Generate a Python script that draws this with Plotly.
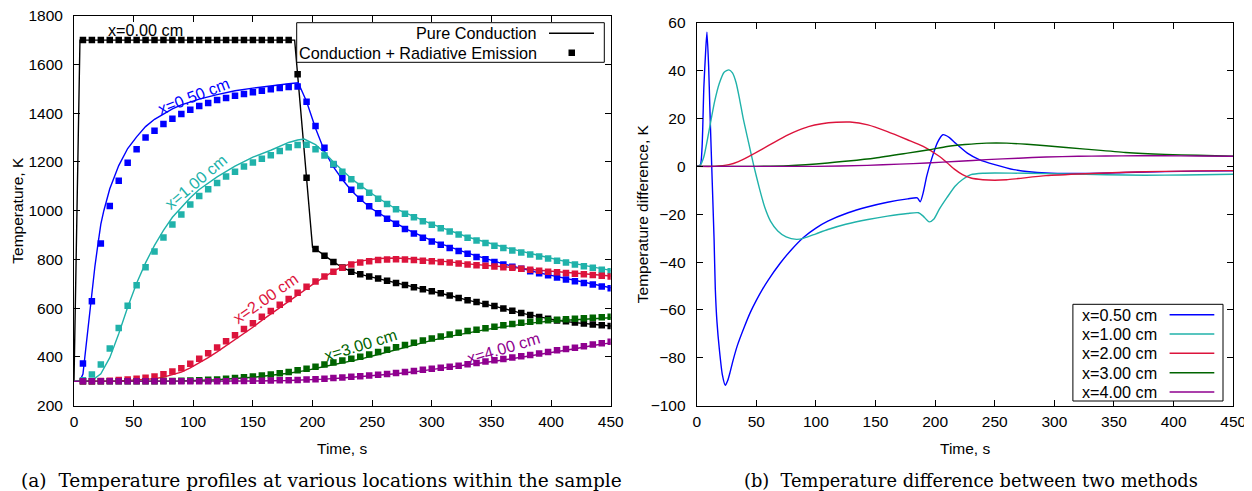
import plotly.graph_objects as go

# page body has an 8px margin: the figure is drawn 8px in from the top-left corner
OX, OY = 8, 8
W, H = 1244, 483

# ---------------- data: left panel ----------------
t_sq = [7.5, 15, 22.5, 30, 37.5, 45, 52.5, 60, 67.5, 75, 82.5, 90, 97.5, 105, 112.5, 120,
        127.5, 135, 142.5, 150, 157.5, 165, 172.5, 180, 187.5, 195, 202.5, 210, 217.5, 225,
        232.5, 240, 247.5, 255, 262.5, 270, 277.5, 285, 292.5, 300, 307.5, 315, 322.5, 330,
        337.5, 345, 352.5, 360, 367.5, 375, 382.5, 390, 397.5, 405, 412.5, 420, 427.5, 435,
        442.5, 450]

sq_x000 = [1700] * 24 + [1560, 1135, 843, 815, 790, 767, 750, 739, 730, 722, 713, 703, 695, 686,
                         678, 670, 661, 652, 642, 633, 625, 617, 609, 599, 590, 580, 572, 564,
                         557, 550, 546, 541, 537, 533, 530, 527]
sq_x050 = [373, 629, 865, 1019, 1123, 1197, 1252, 1300, 1328, 1356, 1377, 1397, 1414, 1430, 1442,
           1454, 1462, 1472, 1479, 1486, 1492, 1498, 1503, 1507, 1510, 1447, 1348, 1258, 1190, 1134,
           1086, 1049, 1018, 990, 967, 946, 925, 906, 889, 874, 860, 847, 835, 823, 810, 801, 790,
           779, 770, 762, 752, 743, 735, 726, 718, 711, 703, 697, 689, 682]
sq_x100 = [304, 328, 369, 435, 519, 610, 694, 768, 833, 890, 943, 984, 1025, 1060, 1088, 1114, 1140,
           1160, 1181, 1198, 1213, 1228, 1245, 1260, 1270, 1271, 1252, 1226, 1192, 1160, 1129, 1101,
           1074, 1049, 1027, 1006, 988, 973, 957, 942, 928, 915, 902, 889, 878, 867, 856, 847, 837,
           829, 820, 812, 804, 795, 787, 779, 772, 766, 758, 752]
sq_x200 = [300, 300, 301, 302, 305, 308, 311, 315, 320, 329, 340, 354, 372, 393, 415, 439, 464, 489,
           515, 538, 565, 589, 614, 638, 663, 688, 710, 730, 750, 766, 779, 787, 793, 798, 800, 801,
           800, 798, 795, 793, 790, 787, 783, 779, 776, 774, 771, 768, 766, 762, 758, 754, 750, 747,
           744, 741, 739, 736, 733, 730]
sq_x300 = [300, 300, 300, 300, 300, 300, 300, 300, 300.5, 301, 301.5, 302, 303, 304, 306, 308, 311,
           313.5, 316.5, 320, 324, 328, 333, 338, 345, 352, 360, 369, 377, 385, 393, 401, 410, 420,
           430, 440, 449, 458, 467, 476, 484, 492, 499, 506, 512, 518, 524, 530, 535, 540, 544, 548,
           551, 553, 555, 557, 559, 561, 563, 565]
sq_x400 = [300] * 16 + [300.5, 301, 301.5, 302, 302.5, 303, 304, 304.5, 305.5, 307, 309, 311, 313.5,
                        316, 318.5, 321, 324, 327, 330, 334, 338.5, 342.5, 347, 352, 356, 360, 364,
                        370, 375, 381, 386, 392, 397.5, 403, 408, 414, 420, 427, 433, 438, 444, 451,
                        456, 462]

ln_x000_t = [0, 5, 185, 200, 202.5, 210, 217.5, 225, 232.5, 240, 255, 270, 285, 300, 315, 330, 345,
             360, 375, 390, 405, 420, 435, 450]
ln_x000 = [300, 1700, 1700, 850, 843, 815, 790, 767, 750, 739, 722, 703, 686, 670, 652, 633, 617,
           599, 580, 564, 550, 541, 533, 527]

ln_x050_t = [0, 5, 7.5, 10, 12.5, 15, 17.5, 20, 22.5, 25, 30, 37.5, 45, 52.5, 60, 67.5, 75, 82.5, 90,
             105, 120, 135, 150, 165, 180, 188, 195, 202.5, 210, 217.5, 225, 232.5, 240, 250, 265,
             280, 300, 330, 360, 390, 420, 450]
ln_x050 = [300, 302, 330, 445, 560, 672, 770, 860, 945, 1000, 1090, 1185, 1255, 1303, 1345, 1375,
           1398, 1418, 1434, 1458, 1476, 1492, 1503, 1513, 1521, 1525, 1448, 1338, 1245, 1180, 1128,
           1083, 1047, 1007, 962, 921, 877, 826, 782, 745, 713, 684]

ln_x100_t = [0, 10, 15, 22.5, 30, 37.5, 45, 52.5, 60, 67.5, 75, 82.5, 90, 97.5, 105, 112.5, 120, 135,
             150, 165, 180, 187.5, 193, 202.5, 210, 217.5, 225, 232.5, 240, 255, 270, 300, 330, 360,
             390, 420, 450]
ln_x100 = [300, 300, 303, 331, 397, 495, 604, 702, 786, 858, 919, 973, 1014, 1053, 1087, 1114, 1139,
           1183, 1220, 1248, 1280, 1290, 1294, 1271, 1239, 1200, 1165, 1132, 1104, 1052, 1007, 945,
           892, 851, 816, 783, 755]

ln_x200_t = [0, 30, 37.5, 45, 52.5, 60, 67.5, 75, 82.5, 90, 97.5, 105, 112.5, 120, 127.5, 135, 142.5,
             150, 157.5, 165, 172.5, 180, 187.5, 195, 202.5, 210, 217.5, 225, 232.5, 240, 247.5, 255,
             262.5, 270, 285, 300, 315, 330, 345, 360, 375, 390, 405, 420, 435, 450]
ln_x200 = [300, 300.5, 302, 304, 305.5, 307.5, 310.5, 317, 326, 338, 355, 375, 397, 421, 446, 471,
           498, 522, 550, 576, 602, 628, 654, 681, 706, 728, 752, 770, 784, 793, 799, 804, 805, 806,
           802, 797, 790, 782, 777, 770, 764, 756, 749, 743, 738, 732]

ln_x300_t = [0, 90, 120, 150, 180, 195, 210, 225, 240, 255, 270, 285, 300, 315, 330, 345, 360, 375,
             390, 405, 420, 435, 450]
ln_x300 = [300, 302, 306.5, 316.5, 333, 345, 361, 376, 391, 410, 430, 449, 468, 484.5, 499, 512, 524,
           534.5, 543, 548.5, 552.5, 556.8, 561]

ln_x400_t = [0, 120, 150, 180, 195, 210, 225, 240, 255, 270, 285, 300, 315, 330, 345, 360, 375, 390,
             405, 420, 435, 450]
ln_x400 = [300, 300, 301.6, 303.4, 305.8, 309.2, 313.8, 318.8, 324.4, 331, 339, 348.5, 356.2, 366,
           376.7, 387.7, 398.7, 409.6, 422.6, 433.7, 446.8, 457.8]

# ---------------- data: right panel (difference) ----------------
d_x050_t = [0, 3, 4.5, 6, 7.5, 8.6, 10, 11, 12.6, 14.6, 15.6, 17, 19, 21.5, 24, 26, 28, 30, 34, 40, 45,
            50, 55, 60, 70, 80, 90, 100, 110, 127, 143, 160, 177, 185, 187.5, 190, 193, 197, 202, 206.5,
            212, 217, 227, 237, 250, 266, 293, 326, 360, 393, 420, 450]
d_x050 = [0, 0.5, 8, 33, 48, 56, 42, 25, 0, -31, -51, -65, -76.4, -87, -91.5, -89.5, -86, -82, -75, -67,
          -61, -56, -51.5, -47.5, -40.5, -34.5, -29.5, -25.8, -22.9, -19.4, -17, -15, -13.6, -13.2,
          -14.8, -11, -4, 3, 10, 13.2, 12, 9.7, 5.5, 2.8, 0.7, -1.4, -2.8, -3.0, -2.6, -2.2, -2.0, -1.9]

d_x100_t = [0, 3, 6, 10, 15, 19, 23, 27, 30, 33, 36, 39, 43.5, 48, 52.5, 57, 62, 68, 75, 83.8, 90, 100,
            110, 125, 143.6, 160, 176.8, 186, 190, 195, 199, 203.4, 210, 216.7, 223, 230, 240, 250,
            276.5, 309.7, 343, 376, 409, 450]
d_x100 = [0, 0.5, 4, 13.9, 27, 34.7, 39.3, 40.3, 39, 35, 28, 20, 10, 0, -9, -17, -23, -27, -29.5, -30.5,
          -30, -28.2, -26.4, -24.2, -22.2, -20.8, -19.7, -19.4, -20.8, -23.2, -22, -18, -13, -8.3,
          -5.5, -3.5, -2.9, -2.8, -2.9, -3.2, -3.5, -3.7, -3.6, -3.3]

d_x200_t = [0, 15, 27, 35, 43.9, 55, 65, 77, 85, 93.7, 105, 117, 128.6, 143.6, 160, 176.8, 190, 203.4,
            210, 216.7, 223, 230, 240, 250, 260, 270, 293, 326, 359.6, 392.8, 420, 450]
d_x200 = [0, 0, 0.7, 2, 4.2, 7.2, 10, 13.2, 15, 16.6, 17.8, 18.4, 18.5, 17.3, 14.5, 11.1, 8.3, 4.2, 1.5,
          -1.4, -3.5, -4.9, -5.6, -5.8, -5.6, -5.1, -3.9, -3.1, -2.5, -2.1, -1.9, -1.8]

d_x300_t = [0, 50, 77, 110, 127, 150, 176.8, 195, 210, 225, 243, 260, 277, 293, 326, 359.6, 392.8, 420, 450]
d_x300 = [0, 0, 0.3, 1.4, 2.2, 3.5, 5.5, 6.9, 8.3, 9.1, 9.7, 9.7, 9.2, 8.6, 7.2, 5.8, 5.0, 4.6, 4.2]

d_x400_t = [0, 100, 143, 170, 193, 220, 243, 270, 293, 320, 343, 370, 392, 420, 450]
d_x400 = [0, 0, 0.4, 0.9, 1.4, 2.1, 2.8, 3.4, 3.9, 4.2, 4.3, 4.4, 4.4, 4.3, 4.2]

loc_labels = ["x=0.00 cm", "x=0.50 cm", "x=1.00 cm", "x=2.00 cm", "x=3.00 cm", "x=4.00 cm"]
x_ticks = [0, 50, 100, 150, 200, 250, 300, 350, 400, 450]
y_ticks_left = [200, 400, 600, 800, 1000, 1200, 1400, 1600, 1800]
y_ticks_right = [-100, -80, -60, -40, -20, 0, 20, 40, 60]

# ---------------- styling ----------------
C_BLACK = "#000000"
C_BLUE = "#0000ff"
C_TEAL = "#20b2aa"
C_RED = "#dc143c"
C_GREEN = "#006400"
C_PURPLE = "#8f008f"
SANS = "Liberation Sans, Arial, sans-serif"
SERIF = "DejaVu Serif, serif"
FS = 15.5      # ticks and axis titles
FT = 16.2      # legend and curve labels


def px(xp):
    return (xp - OX) / W


def py(yp):
    return 1 - (yp - OY) / H


fig = go.Figure()

lines_left = [
    (ln_x000_t, ln_x000, C_BLACK),
    (ln_x050_t, ln_x050, C_BLUE),
    (ln_x100_t, ln_x100, C_TEAL),
    (ln_x200_t, ln_x200, C_RED),
    (ln_x300_t, ln_x300, C_GREEN),
    (ln_x400_t, ln_x400, C_PURPLE),
]
for tt, vv, c in lines_left:
    fig.add_trace(go.Scatter(x=tt, y=vv, mode="lines", line=dict(color=c, width=1.4),
                             xaxis="x", yaxis="y", showlegend=False, hoverinfo="skip"))

squares_left = [
    (sq_x000, C_BLACK), (sq_x050, C_BLUE), (sq_x100, C_TEAL),
    (sq_x200, C_RED), (sq_x300, C_GREEN), (sq_x400, C_PURPLE),
]
for vv, c in squares_left:
    fig.add_trace(go.Scatter(x=t_sq, y=vv, mode="markers",
                             marker=dict(symbol="square", size=6.5, color=c, line=dict(width=0)),
                             xaxis="x", yaxis="y", showlegend=False, hoverinfo="skip"))

diff_right = [
    (d_x050_t, d_x050, C_BLUE), (d_x100_t, d_x100, C_TEAL), (d_x200_t, d_x200, C_RED),
    (d_x300_t, d_x300, C_GREEN), (d_x400_t, d_x400, C_PURPLE),
]
for tt, vv, c in diff_right:
    fig.add_trace(go.Scatter(x=tt, y=vv, mode="lines", line=dict(color=c, width=1.4, shape="spline",
                                                                  smoothing=0.6),
                             xaxis="x2", yaxis="y2", showlegend=False, hoverinfo="skip"))

ax_common = dict(showline=True, linecolor="black", linewidth=1, mirror="ticks", ticks="inside",
                 ticklen=6, tickwidth=1, tickcolor="black", showgrid=False, zeroline=False,
                 ticklabeloverflow="allow",
                 tickfont=dict(family=SANS, size=FS, color="black"))

fig.update_layout(
    width=W, height=H,
    margin=dict(l=0, r=0, t=0, b=0, autoexpand=False),
    paper_bgcolor="white", plot_bgcolor="white",
    showlegend=False,
    xaxis=dict(domain=[px(74), px(610.7)], range=[0, 450], tickvals=x_ticks, anchor="y",
               ticklabelstandoff=2, **ax_common),
    yaxis=dict(domain=[py(405.7), py(15.7)], range=[200, 1800], tickvals=y_ticks_left, anchor="x",
               ticklabelstandoff=7, **ax_common),
    xaxis2=dict(domain=[px(696.7), px(1233.2)], range=[0, 450], tickvals=x_ticks, anchor="y2",
                ticklabelstandoff=2, **ax_common),
    yaxis2=dict(domain=[py(405.7), py(22.7)], range=[-100, 60], tickvals=y_ticks_right, anchor="x2",
                ticklabelstandoff=7, **ax_common),
)

ann = []
# axis titles
ann.append(dict(text="Temperature, K", x=px(18), y=py(210.7), textangle=-90))
ann.append(dict(text="Time, s", x=px(342.4), y=py(448)))
ann.append(dict(text="Temperature difference, K", x=px(642), y=py(214.2), textangle=-90))
ann.append(dict(text="Time, s", x=px(965), y=py(448)))
for a in ann:
    a.update(xref="paper", yref="paper", showarrow=False, xanchor="center", yanchor="middle",
             font=dict(family=SANS, size=FS, color="black"))

# curve labels (in data coordinates of left panel)
curve_lbls = [
    (loc_labels[0], 59.8, 1742, 0, C_BLACK),
    (loc_labels[1], 100, 1471, -21, C_BLUE),
    (loc_labels[2], 101.5, 1119, -40, C_TEAL),
    (loc_labels[3], 160.7, 640, -35, C_RED),
    (loc_labels[4], 240, 449, -17, C_GREEN),
    (loc_labels[5], 360, 437, -16.5, C_PURPLE),
]
for txt, xx, yy, ang, c in curve_lbls:
    ann.append(dict(text=txt, x=xx, y=yy, xref="x", yref="y", textangle=ang, showarrow=False,
                    xanchor="center", yanchor="middle", font=dict(family=SANS, size=FT, color=c)))

# captions
ann.append(dict(text="(a)  Temperature profiles at various locations within the sample",
                x=px(321), y=py(480), xref="paper", yref="paper", showarrow=False,
                xanchor="center", yanchor="middle", font=dict(family=SERIF, size=18.6, color="black")))
ann.append(dict(text="(b)  Temperature difference between two methods",
                x=px(971), y=py(480), xref="paper", yref="paper", showarrow=False,
                xanchor="center", yanchor="middle", font=dict(family=SERIF, size=17.8, color="black")))

shapes = []
# left legend
shapes.append(dict(type="rect", xref="paper", yref="paper", x0=px(296.7), x1=px(604.3),
                   y0=py(62.3), y1=py(22.7), line=dict(color="black", width=1), fillcolor="white",
                   layer="above"))
shapes.append(dict(type="line", xref="paper", yref="paper", x0=px(549), x1=px(594),
                   y0=py(33.3), y1=py(33.3), line=dict(color="black", width=1.4), layer="above"))
shapes.append(dict(type="rect", xref="paper", yref="paper", x0=px(568.5), x1=px(575),
                   y0=py(56), y1=py(49.5), line=dict(width=0), fillcolor="black", layer="above"))
ann.append(dict(text="Pure Conduction", x=px(539), y=py(33.3), xref="paper", yref="paper",
                showarrow=False, xanchor="right", yanchor="middle",
                font=dict(family=SANS, size=FT, color="black")))
ann.append(dict(text="Conduction + Radiative Emission", x=px(539), y=py(52.7), xref="paper",
                yref="paper", showarrow=False, xanchor="right", yanchor="middle",
                font=dict(family=SANS, size=FT, color="black")))

# right legend
shapes.append(dict(type="rect", xref="paper", yref="paper", x0=px(1072.9), x1=px(1223),
                   y0=py(401), y1=py(304.3), line=dict(color="black", width=1), fillcolor="white",
                   layer="above"))
rows_y = [314.7, 334, 353.3, 372.7, 392]
for (txt, c), yy in zip(zip(loc_labels[1:], [C_BLUE, C_TEAL, C_RED, C_GREEN, C_PURPLE]), rows_y):
    shapes.append(dict(type="line", xref="paper", yref="paper", x0=px(1169.6), x1=px(1214.3),
                       y0=py(yy), y1=py(yy), line=dict(color=c, width=1.4), layer="above"))
    ann.append(dict(text=txt, x=px(1158.9), y=py(yy), xref="paper", yref="paper",
                    showarrow=False, xanchor="right", yanchor="middle",
                    font=dict(family=SANS, size=FT, color="black")))

fig.update_layout(annotations=ann, shapes=shapes)
fig.write_html("out.html")
